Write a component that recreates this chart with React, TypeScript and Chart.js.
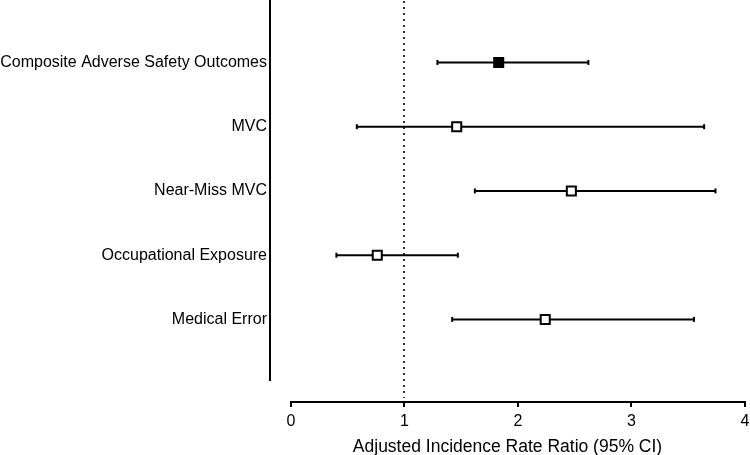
import React, { useEffect, useRef } from "react";
import { Chart, registerables } from "chart.js";

Chart.register(...registerables);

const outcomes = [
  "Composite Adverse Safety Outcomes",
  "MVC",
  "Near-Miss MVC",
  "Occupational Exposure",
  "Medical Error",
];
const estimates = [1.83, 1.46, 2.47, 0.76, 2.24];
const lowerCI = [1.29, 0.58, 1.62, 0.4, 1.42];
const upperCI = [2.62, 3.64, 3.74, 1.47, 3.55];
const filledMarker = [true, false, false, false, false];
const xTicks = [0, 1, 2, 3, 4];
const referenceValue = 1;
const xTitle = "Adjusted Incidence Rate Ratio (95% CI)";

const FONT = "'Liberation Sans', Arial, Helvetica, sans-serif";
const rows = outcomes.map((_, i) => i + 1);
const Y_MIN = 0.028;
const Y_MAX = 6.285;
const Y_AXIS_END = 5.958;
const X_MIN = -0.185;
const X_MAX = 4;

const forestAxes = {
  id: "forestAxes",
  beforeDatasetsDraw(chart: any) {
    const { ctx, chartArea, scales } = chart;
    const x = scales.x;
    const y = scales.y;
    ctx.save();
    ctx.strokeStyle = "#000";
    ctx.lineWidth = 2;
    ctx.beginPath();
    ctx.moveTo(chartArea.left, chartArea.top);
    ctx.lineTo(chartArea.left, y.getPixelForValue(Y_AXIS_END));
    ctx.stroke();
    ctx.beginPath();
    ctx.moveTo(x.getPixelForValue(xTicks[0]) - 1, chartArea.bottom);
    ctx.lineTo(x.getPixelForValue(xTicks[xTicks.length - 1]) + 1, chartArea.bottom);
    ctx.stroke();
    const rx = Math.round(x.getPixelForValue(referenceValue));
    ctx.strokeStyle = "#333";
    ctx.setLineDash([2, 4]);
    ctx.beginPath();
    ctx.moveTo(rx, chartArea.top + 1);
    ctx.lineTo(rx, chartArea.bottom - 4);
    ctx.stroke();
    ctx.restore();
  },
};

export default function App() {
  const ref = useRef<HTMLCanvasElement | null>(null);

  useEffect(() => {
    if (!ref.current) return;
    const ciSets = rows.map((r, i) => ({
      type: "line" as const,
      data: [
        { x: lowerCI[i], y: r },
        { x: upperCI[i], y: r },
      ],
      showLine: true,
      borderColor: "#000",
      borderWidth: 2,
      pointStyle: "line" as const,
      pointRotation: 90,
      pointRadius: 2.5,
      pointBorderWidth: 2,
      pointBorderColor: "#000",
      order: 2,
    }));
    const pointSet = {
      type: "scatter" as const,
      data: rows.map((r, i) => ({ x: estimates[i], y: r })),
      pointStyle: "rect" as const,
      pointRadius: 6.4,
      pointBorderWidth: 2,
      pointBorderColor: "#000",
      pointBackgroundColor: filledMarker.map((f) => (f ? "#000" : "#fff")),
      order: 0,
    };
    const chart = new Chart(ref.current, {
      type: "scatter",
      data: { datasets: [...ciSets, pointSet] as any },
      plugins: [forestAxes],
      options: {
        animation: false,
        responsive: false,
        devicePixelRatio: 1,
        layout: { autoPadding: false, padding: { left: 0, right: 5, top: 0, bottom: 0 } },
        plugins: { legend: { display: false }, tooltip: { enabled: false } },
        scales: {
          x: {
            type: "linear",
            position: "bottom",
            min: X_MIN,
            max: X_MAX,
            afterBuildTicks: (s: any) => {
              s.ticks = xTicks.map((v) => ({ value: v }));
            },
            afterFit: (s: any) => {
              s.height = 53;
              s.paddingLeft = 0;
              s.paddingRight = 0;
            },
            grid: {
              display: true,
              drawOnChartArea: false,
              drawTicks: true,
              tickLength: 5,
              color: "#000",
              lineWidth: 2,
            },
            border: { display: false },
            ticks: {
              padding: 5,
              color: "#000",
              font: { family: FONT, size: 16 },
              callback: (v: any) => String(v),
            },
            title: {
              display: true,
              text: xTitle,
              color: "#000",
              font: { family: FONT, size: 17.5 },
              padding: { top: 4, bottom: -3 },
            },
          },
          y: {
            type: "linear",
            reverse: true,
            min: Y_MIN,
            max: Y_MAX,
            afterBuildTicks: (s: any) => {
              s.ticks = rows.map((v) => ({ value: v }));
            },
            afterFit: (s: any) => {
              s.width = 270;
              s.paddingTop = 0;
              s.paddingBottom = 0;
            },
            grid: { display: false, drawTicks: false },
            border: { display: false },
            ticks: {
              padding: 3,
              color: "#000",
              font: { family: FONT, size: 16 },
              callback: (v: any) => outcomes[Number(v) - 1] ?? "",
            },
          },
        },
      },
    });
    return () => chart.destroy();
  }, []);

  return (
    <div style={{ position: "absolute", left: 0, top: 0, width: 750, height: 455, background: "#fff" }}>
      <canvas ref={ref} width={750} height={455} />
    </div>
  );
}
